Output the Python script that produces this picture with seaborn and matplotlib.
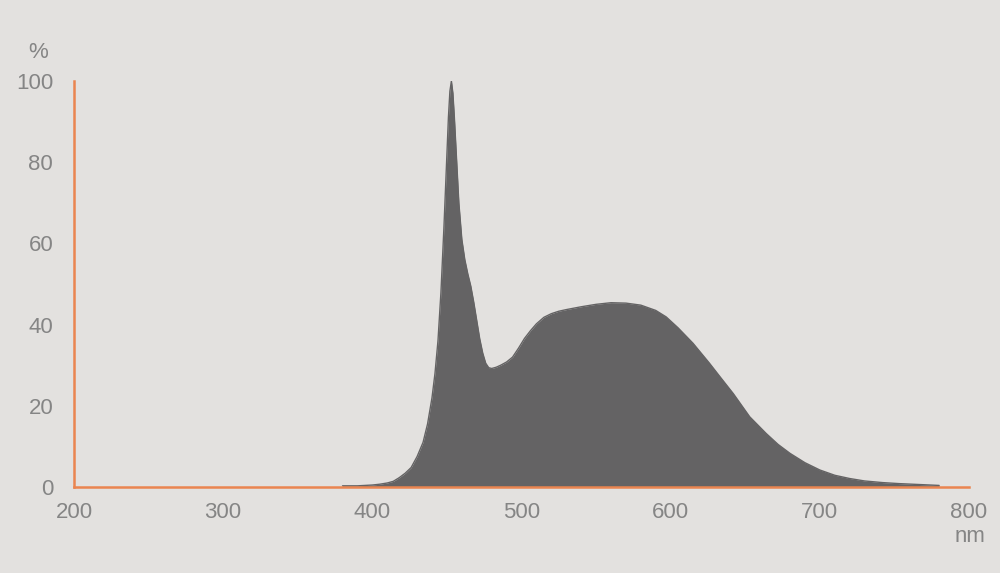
import matplotlib
matplotlib.use("Agg")
import matplotlib.pyplot as plt
import seaborn as sns
import pandas as pd

wavelength_nm = [380, 390, 400, 405, 410, 414, 418, 422, 426, 430, 434, 437, 440, 442, 444,
                 446, 448, 450, 451, 452, 453, 454, 455, 456, 458, 460, 462, 464, 466, 468,
                 470, 472, 474, 476, 478, 480, 483, 486, 490, 494, 498, 502, 506, 510, 515,
                 520, 525, 530, 540, 550, 560, 570, 580, 590, 597, 605, 615, 626, 633, 642,
                 653, 664, 672, 680, 690, 700, 710, 720, 730, 742, 753, 765, 780]
intensity_pct = [0.3, 0.3, 0.5, 0.7, 1.0, 1.4, 2.3, 3.4, 4.8, 7.5, 11, 15.5, 22, 28, 36,
                 48, 64, 82, 91, 97.5, 100, 97, 91, 84, 70, 61, 56, 52.5, 49.5, 45.5,
                 41, 36.5, 33, 30.5, 29.4, 29.2, 29.5, 30.0, 30.8, 32.0, 34.2, 36.6, 38.5, 40.2, 41.8,
                 42.7, 43.3, 43.7, 44.4, 45.0, 45.4, 45.3, 44.8, 43.5, 41.9, 39.2, 35.4, 30.5, 27.2, 23,
                 17.3, 13.2, 10.5, 8.3, 6.0, 4.2, 2.9, 2.1, 1.5, 1.1, 0.85, 0.65, 0.4]
x_ticks = [200, 300, 400, 500, 600, 700, 800]
y_ticks = [0, 20, 40, 60, 80, 100]

BG = "#e3e1df"
FILL = "#646364"
ORANGE = "#ea8550"
TXT = "#858585"

sns.set_theme(style="white")
plt.rcParams['font.family'] = ['Liberation Sans', 'DejaVu Sans']

df = pd.DataFrame({"nm": wavelength_nm, "pct": intensity_pct})

fig = plt.figure(figsize=(10, 5.73), dpi=100, facecolor=BG)
ax = fig.add_axes([0.074, 0.150, 0.895, 0.7086])
ax.set_facecolor(BG)

ax.fill_between(df["nm"], 0, df["pct"], color=FILL, linewidth=0, zorder=2)
sns.lineplot(data=df, x="nm", y="pct", ax=ax, color=FILL, linewidth=1.0, zorder=3)

ax.set_xlim(200, 800)
ax.set_ylim(0, 100)
ax.set_xticks(x_ticks)
ax.set_yticks(y_ticks)
ax.set_xlabel("")
ax.set_ylabel("")

for s in ["top", "right"]:
    ax.spines[s].set_visible(False)
for s in ["left", "bottom"]:
    ax.spines[s].set_color(ORANGE)
    ax.spines[s].set_linewidth(1.8)
    ax.spines[s].set_zorder(4)

ax.tick_params(axis="x", colors=ORANGE, length=6, width=1.5, direction="out",
               labelcolor=TXT, labelsize=16, pad=5)
ax.tick_params(axis="y", length=0, labelcolor=TXT, labelsize=16, pad=15)

fig.text(0.038, 1 - 53 / 573, "%", ha="center", va="center", color=TXT, fontsize=16)
fig.text(0.970, 1 - 536 / 573, "nm", ha="center", va="center", color=TXT, fontsize=16)

fig.savefig("out.png", dpi=100, facecolor=BG)
